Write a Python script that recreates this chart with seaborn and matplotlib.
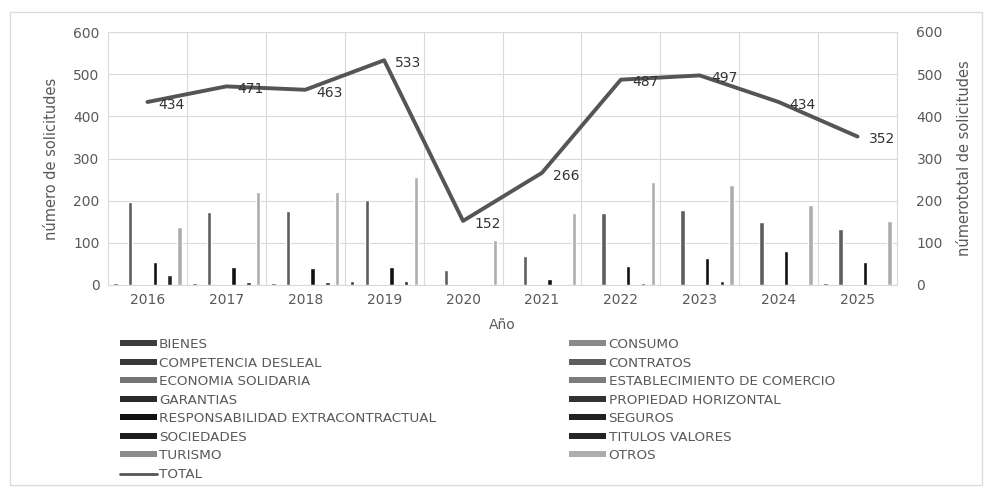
import numpy as np
import pandas as pd
import matplotlib
matplotlib.use('Agg')
import matplotlib.pyplot as plt
import seaborn as sns
from matplotlib.patches import Patch, Rectangle
from matplotlib.lines import Line2D

# Años y categorías (orden de las barras en cada grupo)
anios = ['2016', '2017', '2018', '2019', '2020', '2021', '2022', '2023', '2024', '2025']
categorias = ['BIENES', 'CONSUMO', 'COMPETENCIA DESLEAL', 'CONTRATOS', 'ECONOMIA SOLIDARIA',
              'ESTABLECIMIENTO DE COMERCIO', 'GARANTIAS', 'PROPIEDAD HORIZONTAL',
              'RESPONSABILIDAD EXTRACONTRACTUAL', 'SEGUROS', 'SOCIEDADES', 'TITULOS VALORES',
              'TURISMO', 'OTROS']

# Solicitudes por categoría
bienes = [5, 5, 5, 9, 0, 2, 2, 2, 2, 4]
consumo = [0, 0, 0, 0, 0, 0, 2, 0, 0, 0]
competencia = [0, 0, 0, 0, 0, 0, 0, 0, 0, 0]
contratos = [197, 174, 175, 201, 36, 69, 171, 179, 150, 132]
economia = [0, 0, 0, 0, 0, 0, 0, 0, 0, 0]
establecimiento = [0, 0, 0, 0, 0, 0, 0, 0, 0, 0]
garantias = [0, 2, 0, 0, 0, 0, 0, 0, 0, 0]
propiedad = [0, 2, 0, 0, 0, 0, 0, 0, 0, 0]
responsabilidad = [55, 42, 40, 43, 3, 15, 46, 63, 80, 55]
seguros = [3, 3, 3, 3, 0, 0, 3, 0, 2, 0]
sociedades = [0, 0, 2, 3, 0, 0, 3, 0, 0, 0]
titulos = [24, 8, 8, 9, 3, 2, 5, 10, 3, 3]
turismo = [0, 0, 0, 0, 0, 0, 0, 0, 0, 0]
otros = [138, 221, 220, 256, 107, 170, 245, 237, 190, 152]

total = [434, 471, 463, 533, 152, 266, 487, 497, 434, 352]

series = [bienes, consumo, competencia, contratos, economia, establecimiento, garantias,
          propiedad, responsabilidad, seguros, sociedades, titulos, turismo, otros]

colores = ['#3c3c3c', '#8a8a8a', '#383838', '#5e5e5e', '#757575', '#7c7c7c', '#2a2a2a',
           '#333333', '#111111', '#222222', '#1c1c1c', '#242424', '#8c8c8c', '#adadad']
paleta = dict(zip(categorias, colores))

# tabla larga para seaborn
filas = []
for cat, vals in zip(categorias, series):
    for a, v in zip(anios, vals):
        filas.append({'Año': a, 'categoria': cat, 'valor': v})
df = pd.DataFrame(filas)

sns.set_theme(style='white')
plt.rcParams['font.family'] = ['DejaVu Sans']
gris = '#595959'

fig = plt.figure(figsize=(9.86, 4.88), dpi=100)
ax = fig.add_axes([108/986, 1 - 285/488, (897 - 108)/986, (285 - 32)/488])

sns.barplot(data=df, x='Año', y='valor', hue='categoria', hue_order=categorias,
            palette=paleta, width=0.87, gap=0.1, saturation=1, legend=False, ax=ax)

ax.set_ylim(0, 600)
ax.set_yticks(range(0, 601, 100))
ax.set_xlim(-0.5, 9.5)
ax.grid(axis='y', color='#d9d9d9', linewidth=0.8)
for xb in np.arange(0.5, 9.5, 1):
    ax.axvline(xb, color='#d9d9d9', linewidth=0.8, zorder=0)
ax.set_axisbelow(True)
for s in ax.spines.values():
    s.set_color('#d9d9d9')
    s.set_linewidth(0.8)
ax.tick_params(axis='both', length=0, labelsize=10, labelcolor=gris, pad=6)
ax.set_xlabel('Año', fontsize=10, color=gris, labelpad=8)
ax.set_ylabel('número de solicitudes', fontsize=10.5, color=gris, labelpad=10)

# eje secundario con el total
ax2 = ax.twinx()
sns.lineplot(x=np.arange(len(anios)), y=total, ax=ax2, color='#555555', linewidth=2.8)
ax2.set_ylim(0, 600)
ax2.set_yticks(range(0, 601, 100))
ax2.tick_params(axis='y', length=0, labelsize=10, labelcolor=gris, pad=14)
ax2.set_ylabel('númerototal de solicitudes', fontsize=10.5, color=gris, labelpad=10)
for s in ax2.spines.values():
    s.set_visible(False)

for i, v in enumerate(total):
    ax2.annotate(str(v), (i, v), xytext=(8, -2), textcoords='offset points',
                 ha='left', va='center', fontsize=10, color='#333333')

# leyenda en dos columnas (orden por filas como en Excel)
col1 = ['BIENES', 'COMPETENCIA DESLEAL', 'ECONOMIA SOLIDARIA', 'GARANTIAS',
        'RESPONSABILIDAD EXTRACONTRACTUAL', 'SOCIEDADES', 'TURISMO']
col2 = ['CONSUMO', 'CONTRATOS', 'ESTABLECIMIENTO DE COMERCIO', 'PROPIEDAD HORIZONTAL',
        'SEGUROS', 'TITULOS VALORES', 'OTROS']
handles = [Patch(facecolor=paleta[c], edgecolor='none') for c in col1]
handles.append(Line2D([], [], color='#555555', linewidth=2))
handles += [Patch(facecolor=paleta[c], edgecolor='none') for c in col2]
labels = col1 + ['TOTAL'] + col2
fig.legend(handles, labels, ncol=2, loc='upper left', bbox_to_anchor=(120/986, 1 - 338/488),
           frameon=False, fontsize=9.7, labelcolor=gris, handlelength=2.75, handleheight=0.32,
           handletextpad=0.15, labelspacing=0.41, columnspacing=9.9, borderaxespad=0,
           borderpad=0)

# marco exterior
fig.patches.append(Rectangle((10/986, 3/488), 972/986, 473/488, transform=fig.transFigure,
                             fill=False, edgecolor='#dcdcdc', linewidth=1))

fig.savefig('out.png', dpi=100)
